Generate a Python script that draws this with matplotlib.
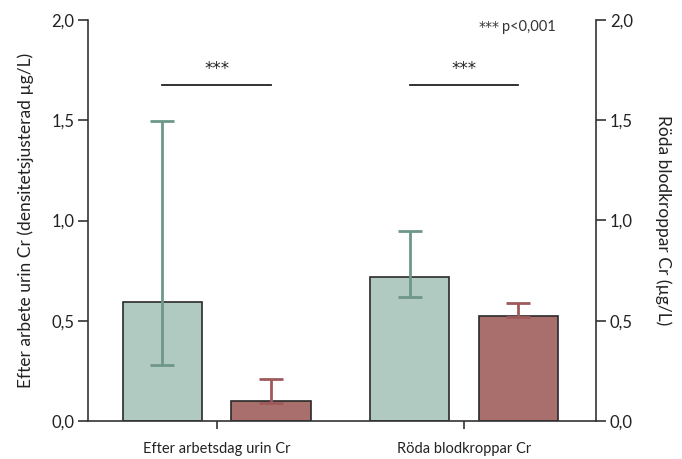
import matplotlib
matplotlib.use("Agg")
import matplotlib.pyplot as plt

plt.rcParams['font.family'] = ['Lato', 'DejaVu Sans']

categories = ["Efter arbetsdag urin Cr", "Röda blodkroppar Cr"]
green_vals = [0.594, 0.717]
green_lo = [0.28, 0.62]
green_hi = [1.498, 0.948]
red_vals = [0.10, 0.525]
red_lo = [0.09, 0.517]
red_hi = [0.21, 0.587]
sig_y = 1.675
yticks = [0.0, 0.5, 1.0, 1.5, 2.0]
ytick_labels = ["0,0", "0,5", "1,0", "1,5", "2,0"]

fig = plt.figure(figsize=(6.82, 4.59), dpi=100)
ax = fig.add_axes([88/682, 1-421/459, (596-88)/682, (421-20)/459])

x = [0, 1]
off = 0.22
w = 0.32
gx = [i - off for i in x]
rx = [i + off for i in x]

ax.bar(gx, green_vals, width=w, color="#b0c9c1", edgecolor="#2a2a2a", linewidth=1.2, zorder=2)
ax.bar(rx, red_vals, width=w, color="#a86f6c", edgecolor="#2a2a2a", linewidth=1.2, zorder=2)

gerr = [[v - l for v, l in zip(green_vals, green_lo)], [h - v for v, h in zip(green_vals, green_hi)]]
rerr = [[v - l for v, l in zip(red_vals, red_lo)], [h - v for v, h in zip(red_vals, red_hi)]]
ax.errorbar(gx, green_vals, yerr=gerr, fmt='none', ecolor="#6e978a", elinewidth=2, capsize=8.5, capthick=2, zorder=3)
ax.errorbar(rx, red_vals, yerr=rerr, fmt='none', ecolor="#9e5a5a", elinewidth=2, capsize=8.5, capthick=2, zorder=3)

for g, r in zip(gx, rx):
    ax.plot([g, r], [sig_y, sig_y], color="#222222", lw=1.3)
    ax.text((g + r) / 2, sig_y + 0.035, "***", ha='center', va='bottom', fontsize=12,
            color="#222222", family='DejaVu Sans')

star = ax.text(1.372, 1.965, "***", ha='right', va='center', fontsize=10, color="#333333", family='DejaVu Sans')
ptxt = ax.text(1.372, 1.965, "p<0,001", ha='right', va='center', fontsize=10.5, color="#333333")
fig.canvas.draw()
bb = ptxt.get_window_extent(renderer=fig.canvas.get_renderer())
inv = ax.transData.inverted()
star.set_x(inv.transform((bb.x0 - 6, bb.y0))[0])

ax.set_xlim(-0.52, 1.534)
ax.set_ylim(0, 2.0)
ax.set_xticks(x)
ax.set_xticklabels(categories, fontsize=10.5, color="#222222")
ax.set_yticks(yticks)
ax.set_yticklabels(ytick_labels, fontsize=12, color="#222222")
ax.tick_params(axis='y', direction='out', length=7, width=1.2, colors="#333333", labelcolor="#222222", pad=3)
ax.tick_params(axis='x', direction='out', length=6, width=1.2, colors="#333333", labelcolor="#222222", pad=9)
ax.spines['top'].set_visible(False)
ax.spines['right'].set_visible(False)
for s in ['left', 'bottom']:
    ax.spines[s].set_color("#333333")
    ax.spines[s].set_linewidth(1.2)
ax.set_ylabel("Efter arbete urin Cr (densitetsjusterad µg/L)", fontsize=12.5, color="#222222", labelpad=12)

ax2 = ax.twinx()
ax2.set_ylim(0, 2.0)
ax2.set_yticks(yticks)
ax2.set_yticklabels(ytick_labels, fontsize=12, color="#222222")
ax2.tick_params(axis='y', direction='out', length=7, width=1.2, colors="#333333", labelcolor="#222222", pad=3)
for s in ['top', 'left', 'bottom']:
    ax2.spines[s].set_visible(False)
ax2.spines['right'].set_color("#333333")
ax2.spines['right'].set_linewidth(1.2)
ax2.set_ylabel("Röda blodkroppar Cr (µg/L)", fontsize=12.5, color="#222222", rotation=270, labelpad=28)

fig.savefig("out.png", dpi=100)
